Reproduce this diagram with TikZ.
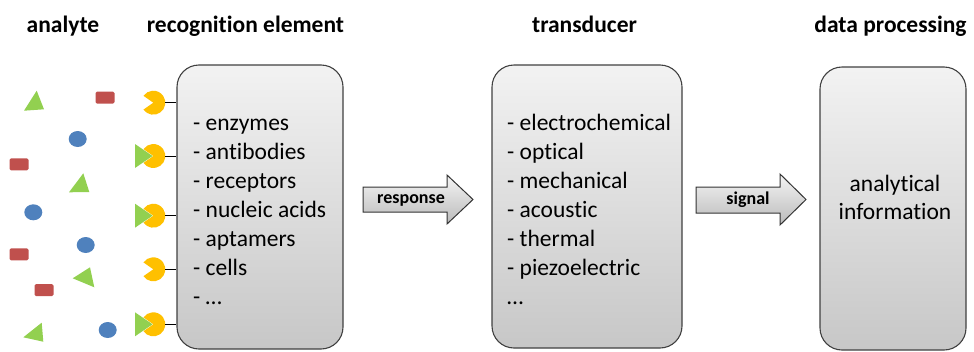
\documentclass[tikz,border=0pt]{standalone}
\usepackage{fontspec}
\setmainfont[Ligatures={NoCommon,NoRequired,NoContextual}]{Carlito}
\definecolor{leafgreen}{RGB}{146,208,80}
\definecolor{steelblue}{RGB}{79,129,189}
\definecolor{brickred}{RGB}{192,80,77}
\definecolor{amber}{RGB}{255,192,0}
\begin{document}
\begin{tikzpicture}[x=1pt,y=-1pt,
  heading/.style={font=\fontsize{23.5}{28}\selectfont\bfseries, anchor=base, inner sep=0pt},
  item/.style={font=\fontsize{23.5}{29}\selectfont, anchor=base west, inner sep=0pt},
  panel/.style={draw=black!75, line width=1.1pt, rounded corners=22pt,
    top color=black!5, bottom color=black!22, inner sep=0pt},
  flow/.style={draw=black!80, line width=1pt, top color=black!4, bottom color=black!27, line join=miter},
  flowlabel/.style={font=\fontsize{18}{20}\selectfont\bfseries, inner sep=0pt},
  receptor/.style={fill=amber},
  ligand/.style={fill=leafgreen},
  tether/.style={draw=black, line width=0.9pt}]
\useasboundingbox (0,0) rectangle (974,351);

% column headings
\node[heading] (hAnalyte) at (63,32) {analyte};
\node[heading] (hRecog) at (245.5,32) {recognition element};
\node[heading] (hTrans) at (584.5,32) {transducer};
\node[heading] (hData) at (890.5,32) {data processing};

% panels
\node[panel, minimum width=166pt, minimum height=284pt] (recog) at (260,207) {};
\node[panel, minimum width=190pt, minimum height=283pt] (trans) at (587,206.5) {};
\node[panel, minimum width=146pt, minimum height=283pt] (data) at (893,208.5) {};

% panel contents
\foreach \txt [count=\i] in {- enzymes,- antibodies,- receptors,- nucleic acids,- aptamers,- cells,- …}
  \node[item] (rl\i) at (193,{130+29*(\i-1)}) {\txt};
\foreach \txt [count=\i] in {- electrochemical,- optical,- mechanical,- acoustic,- thermal,- piezoelectric,…}
  \node[item] (tl\i) at (507,{130+29*(\i-1)}) {\txt};
\node[font=\fontsize{23.5}{28.5}\selectfont, align=center, inner sep=0pt] (info) at (895,197.5)
  {analytical\\information};

% block arrows between panels
\draw[flow] (363,187) -- (447,187) -- (447,175) -- (473,199.5) -- (447,224) -- (447,212) -- (363,212) -- cycle;
\node[flowlabel] (resp) at (411,200) {response};
\draw[flow] (696,187) -- (780,187) -- (780,174) -- (806,199.5) -- (780,225) -- (780,213) -- (696,213) -- cycle;
\node[flowlabel] (sig) at (748,200) {signal};

% receptors tethered to the recognition panel
\foreach \y/\bound [count=\i] in {102.7/0,156/1,215.7/1,269.3/0,324.3/1}{
  \fill[receptor] (153.3,\y) -- ++(145:12) arc[start angle=145, end angle=-145, radius=12] -- cycle;
  \coordinate (p\i) at (165.3,\y);
  \draw[tether] (p\i) -- (recog.west |- p\i);
  \ifnum\bound=1
    \fill[ligand] (135,\y-12) -- (152.5,\y) -- (135,\y+12) -- cycle;
  \fi
}

% free analyte molecules
\fill[leafgreen] (36.7,90.7) -- (24,110.7) -- (44,109.3) -- cycle;
\fill[leafgreen] (83.3,173.3) -- (69,192.3) -- (89.3,192) -- cycle;
\fill[leafgreen] (72.7,278.3) -- (90,267.3) -- (94.3,287.3) -- cycle;
\fill[leafgreen] (41.7,322.7) -- (23.3,337.3) -- (43.3,341.7) -- cycle;

\foreach \x/\y in {77.7/139,33.3/212.3,85.7/245,107.7/330}
  \fill[steelblue] (\x,\y) ellipse[x radius=9, y radius=8];

\foreach \x/\y in {105/97.7,19/164.3,19/254.3,44/290}
  \fill[brickred, rounded corners=1.5pt] (\x-9.5,\y-6) rectangle (\x+9.5,\y+6);
\end{tikzpicture}
\end{document}
